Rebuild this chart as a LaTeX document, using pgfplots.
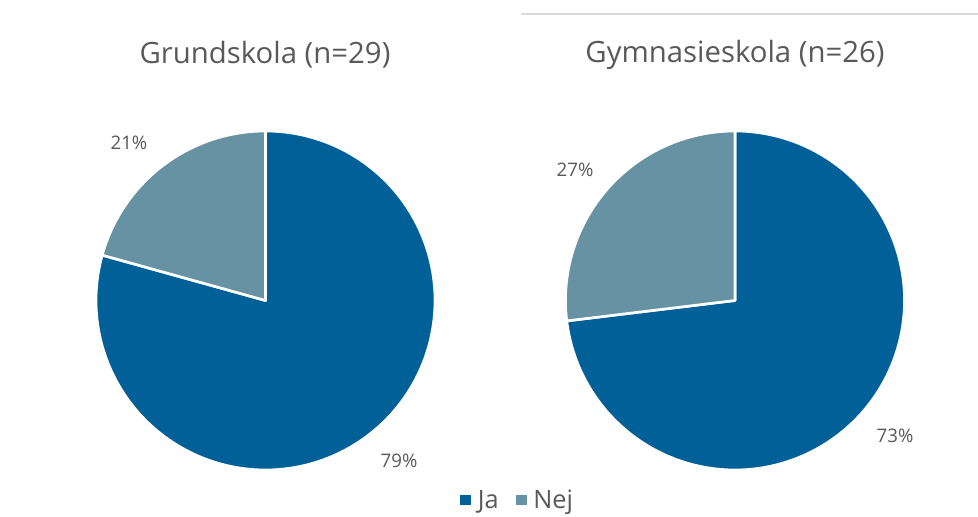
\documentclass[border=0pt]{standalone}
\usepackage{pgfplots}
\pgfplotsset{compat=1.18}
\usepackage{fontspec}
\setmainfont{Open Sans}
\definecolor{ja}{RGB}{0,96,151}
\definecolor{nej}{RGB}{103,146,163}
\definecolor{txt}{RGB}{89,89,89}
\definecolor{ttl}{RGB}{89,89,89}
\definecolor{topline}{RGB}{217,217,217}
\begin{document}
\begin{tikzpicture}[x=0.75pt,y=0.75pt]
\path[use as bounding box] (0,0) rectangle (978,517);
\draw[line width=0.9pt, topline] (521,503) -- (978,503);
\coordinate (cA) at (265.5,216.5);
\coordinate (cB) at (735,216.5);
\pgfplotsset{pie/.style={scale only axis, width=254.25pt, height=254.25pt,
  xmin=-1,xmax=1,ymin=-1,ymax=1, hide axis, clip=false, anchor=center},
  slice/.style={draw=white, line width=2pt, line join=round, samples=200, forget plot}}
% Grundskola (n=29): Ja 23, Nej 6
\def\jaA{23}\def\nejA{6}
\pgfmathsetmacro\aA{90-360*\jaA/(\jaA+\nejA)}
% Gymnasieskola (n=26): Ja 19, Nej 7
\def\jaB{19}\def\nejB{7}
\pgfmathsetmacro\aB{90-360*\jaB/(\jaB+\nejB)}
\begin{axis}[pie, at={(cA)},
  legend style={at={(1.245,-0.0885)}, anchor=center, draw=none, fill=none,
    legend columns=2, font=\fontsize{19}{22}\selectfont, text=txt,
    /tikz/every odd column/.append style={column sep=3pt},
    /tikz/every even column/.append style={column sep=11pt}},
  legend image code/.code={\fill[#1, draw=none] (0pt,-4pt) rectangle (8pt,4pt);}]
\addplot[slice, fill=ja, domain=\aA:90] ({cos(x)},{sin(x)}) -- (axis cs:0,0) -- cycle;
\addplot[slice, fill=nej, domain=-270:\aA] ({cos(x)},{sin(x)}) -- (axis cs:0,0) -- cycle;
\addlegendimage{fill=ja, draw=none}
\addlegendentry{Ja}
\addlegendimage{fill=nej, draw=none}
\addlegendentry{Nej}
\end{axis}
\begin{axis}[pie, at={(cB)}]
\addplot[slice, fill=ja, domain=\aB:90] ({cos(x)},{sin(x)}) -- (axis cs:0,0) -- cycle;
\addplot[slice, fill=nej, domain=-270:\aB] ({cos(x)},{sin(x)}) -- (axis cs:0,0) -- cycle;
\end{axis}
\node[ttl, font=\fontsize{22}{26}\selectfont] at (265,462) {Grundskola (n=29)};
\node[ttl, font=\fontsize{22}{26}\selectfont] at (735,462) {Gymnasieskola (n=26)};
\node[txt, font=\fontsize{14}{17}\selectfont] at (129,374) {21\%};
\node[txt, font=\fontsize{14}{17}\selectfont] at (399,56) {79\%};
\node[txt, font=\fontsize{14}{17}\selectfont] at (575,347) {27\%};
\node[txt, font=\fontsize{14}{17}\selectfont] at (895,81) {73\%};
\end{tikzpicture}
\end{document}
